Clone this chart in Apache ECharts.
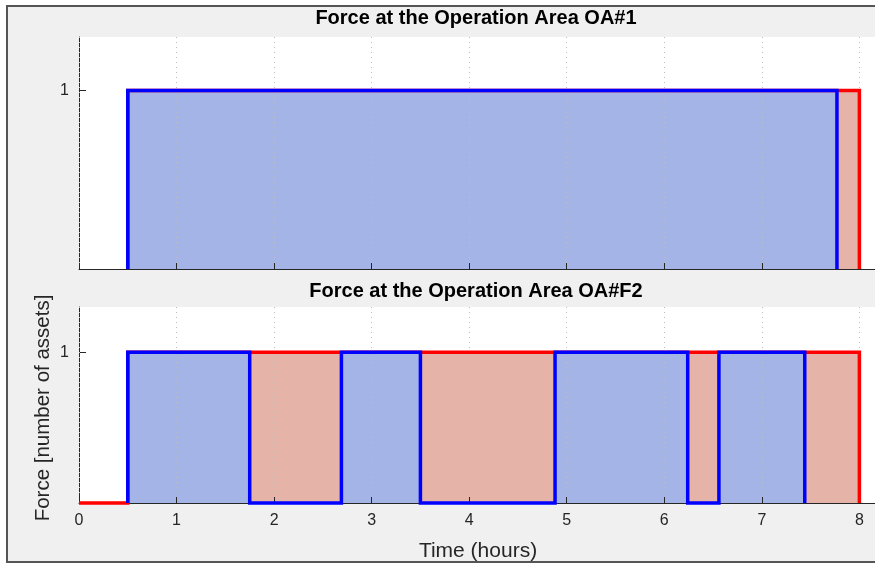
<!DOCTYPE html>
<html>
<head>
<meta charset="utf-8">
<script src="https://cdn.jsdelivr.net/npm/echarts@6/dist/echarts.min.js"></script>
<style>
  html, body { margin: 0; padding: 0; background: #ffffff; }
  #chart { width: 875px; height: 564px; }
</style>
</head>
<body>
<div id="chart"></div>
<script>
// Hour ticks along the time axis
const hourTicks = [0, 1, 2, 3, 4, 5, 6, 7, 8];
// Force ticks on the vertical axis
const forceTicks = [1];

// OA#1: total assigned force (red) and force actually present (blue)
const oa1RedStart = 0.5;
const oa1RedTimes = [0.5, 8];
const oa1RedLevels = [1, 0];
const oa1BlueStart = 0.5;
const oa1BlueTimes = [0.5, 7.77];
const oa1BlueLevels = [1, 0];

// OA#F2
const f2RedStart = 0;
const f2RedTimes = [0.5, 8];
const f2RedLevels = [1, 0];
const f2BlueStart = 0.5;
const f2BlueTimes = [0.5, 1.75, 2.69, 3.5, 4.88, 6.24, 6.56, 7.44];
const f2BlueLevels = [1, 0, 1, 0, 1, 0, 1, 0];

// Turn breakpoints into a step polyline starting from level 0
function stepPoints(start, times, levels) {
  const pts = [[start, 0]];
  let prev = 0;
  for (let i = 0; i < times.length; i++) {
    pts.push([times[i], prev]);
    pts.push([times[i], levels[i]]);
    prev = levels[i];
  }
  return pts;
}

const BLUE = '#0000ff', RED = '#ff0000';
const BLUE_FILL = '#a5b4e6', RED_FILL = '#e5b3a8';
const AX = '#262626';
const FONT = '"Liberation Sans", Arial, Helvetica, sans-serif';
const XMAX = 8.16;

function xAxisFor(gridIndex, showLabels) {
  return {
    type: 'value', gridIndex, min: 0, max: XMAX, interval: 1,
    axisLine: { show: true, onZero: false, lineStyle: { color: AX, width: 1 } },
    axisTick: { show: true, inside: true, length: 6, lineStyle: { color: AX }, customValues: hourTicks },
    axisLabel: {
      show: showLabels, color: AX, fontFamily: FONT, fontSize: 16, margin: 10,
      customValues: hourTicks
    },
    splitLine: { show: true, lineStyle: { color: '#bdbdbd', width: 1, type: [1, 4] } },
    z: 3
  };
}
function yAxisFor(gridIndex) {
  return {
    type: 'value', gridIndex, min: 0, max: 1.3, interval: 1,
    axisLine: { show: true, onZero: false, lineStyle: { color: AX, width: 1 } },
    axisTick: { show: true, inside: true, length: 7, lineStyle: { color: AX }, customValues: forceTicks },
    axisLabel: {
      color: AX, fontFamily: FONT, fontSize: 16, margin: 10,
      customValues: forceTicks
    },
    splitLine: { show: false }
  };
}

function fillSeries(idx, data, color) {
  return {
    type: 'line', xAxisIndex: idx, yAxisIndex: idx, data,
    symbol: 'none', silent: true, z: 1,
    lineStyle: { width: 0, opacity: 0 },
    areaStyle: { color, opacity: 1, origin: 'start' }
  };
}
function edgeSeries(idx, data, color, z) {
  return {
    type: 'line', xAxisIndex: idx, yAxisIndex: idx, data,
    symbol: 'none', silent: true, z, clip: false,
    lineStyle: { color, width: 3.5, join: 'miter', cap: 'butt' }
  };
}

const oa1Red = stepPoints(oa1RedStart, oa1RedTimes, oa1RedLevels);
const oa1Blue = stepPoints(oa1BlueStart, oa1BlueTimes, oa1BlueLevels);
const f2Red = stepPoints(f2RedStart, f2RedTimes, f2RedLevels);
const f2Blue = stepPoints(f2BlueStart, f2BlueTimes, f2BlueLevels);

const chart = echarts.init(document.getElementById('chart'), null, { renderer: 'canvas' });
chart.setOption({
  backgroundColor: '#ffffff',
  animation: false,
  grid: [
    { left: 79, top: 37, width: 796, height: 232, show: true, backgroundColor: '#ffffff', borderWidth: 0, containLabel: false, outerBoundsMode: 'none' },
    { left: 79, top: 307, width: 796, height: 196, show: true, backgroundColor: '#ffffff', borderWidth: 0, containLabel: false, outerBoundsMode: 'none' }
  ],
  xAxis: [xAxisFor(0, false), xAxisFor(1, true)],
  yAxis: [yAxisFor(0), yAxisFor(1)],
  graphic: [
    {
      type: 'rect', z: -10, silent: true,
      shape: { x: 7, y: 6, width: 900, height: 556 },
      style: { fill: '#f0f0f0', stroke: '#555555', lineWidth: 2 }
    },
    {
      type: 'text', x: 476, y: 18, z: 10,
      style: { text: 'Force at the Operation Area OA#1', fill: '#000', font: 'bold 20px ' + FONT, textAlign: 'center', textVerticalAlign: 'middle' }
    },
    {
      type: 'text', x: 476, y: 291, z: 10,
      style: { text: 'Force at the Operation Area OA#F2', fill: '#000', font: 'bold 20px ' + FONT, textAlign: 'center', textVerticalAlign: 'middle' }
    },
    {
      type: 'text', x: 478, y: 551, z: 10,
      style: { text: 'Time (hours)', fill: AX, font: '21px ' + FONT, textAlign: 'center', textVerticalAlign: 'middle' }
    },
    {
      type: 'text', x: 43, y: 408, rotation: Math.PI / 2, z: 10,
      style: { text: 'Force [number of assets]', fill: AX, font: '20.5px ' + FONT, textAlign: 'center', textVerticalAlign: 'middle' }
    }
  ],
  series: [
    fillSeries(0, oa1Red, RED_FILL),
    fillSeries(0, oa1Blue, BLUE_FILL),
    edgeSeries(0, oa1Red, RED, 5),
    edgeSeries(0, oa1Blue, BLUE, 6),
    fillSeries(1, f2Red, RED_FILL),
    fillSeries(1, f2Blue, BLUE_FILL),
    edgeSeries(1, f2Red, RED, 5),
    edgeSeries(1, f2Blue, BLUE, 6)
  ]
});
</script>
</body>
</html>
